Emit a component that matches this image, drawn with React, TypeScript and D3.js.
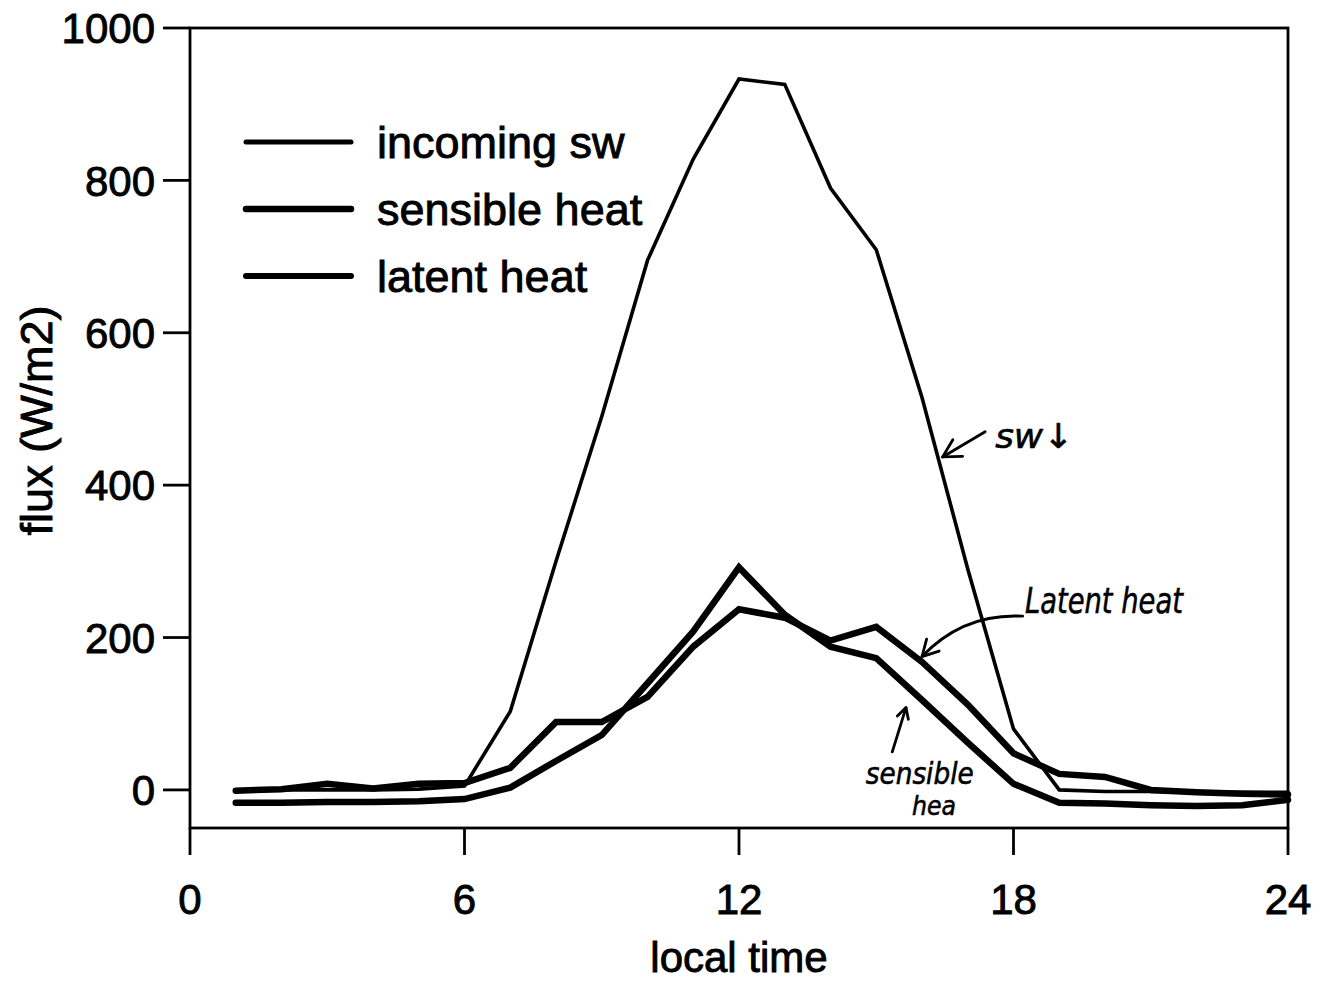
import React from "react";
import * as d3 from "d3";

const hours = [1, 2, 3, 4, 5, 6, 7, 8, 9, 10, 11, 12, 13, 14, 15, 16, 17, 18, 19, 20, 21, 22, 23, 24];
const incomingSw = [0, 0, 0, 0, 1, 5, 103, 300, 490, 695, 828, 933, 926, 790, 709, 515, 290, 80, 0, -2, -2, -3, -3, -3];
const sensibleHeat = [-17, -17, -16, -16, -15, -12, 3, 38, 72, 140, 208, 292, 230, 188, 173, 118, 62, 8, -17, -18, -20, -21, -20, -13];
const latentHeat = [-1, 1, 8, 2, 8, 9, 29, 89, 89, 122, 188, 237, 226, 196, 214, 168, 112, 48, 21, 17, 0, -3, -5, -6];

const xTicks = [0, 6, 12, 18, 24];
const yTicks = [0, 200, 400, 600, 800, 1000];
const legendLabels = ["incoming sw", "sensible heat", "latent heat"];
const legendWidths = [5, 6.5, 6];
const seriesWidths = [3.6, 6.5, 6.5];

const W = 1321;
const H = 985;
const M = { left: 190, right: 1288, top: 28, bottom: 828 };

export default function App() {
  const x = d3.scaleLinear().domain([0, 24]).range([M.left, M.right]);
  const y = d3.scaleLinear().domain([-50, 1000]).range([M.bottom, M.top]);
  const series = [incomingSw, sensibleHeat, latentHeat];
  const line = d3
    .line<number>()
    .x((_, i) => x(hours[i]))
    .y((d) => y(d));

  const font = "'Liberation Sans', Arial, Helvetica, sans-serif";
  const hand = "'DejaVu Sans', sans-serif";
  const tickLen = 27;
  const textStroke = { stroke: "#000", strokeWidth: 0.9 };

  // handwritten annotations (data coordinates)
  const swArrow = { from: [17.38, 470], to: [16.45, 437] };
  const latArrow = { from: [18.2, 228], ctrl: [16.9, 232], to: [16.0, 175] };
  const senArrow = { from: [15.35, 50], to: [15.65, 108] };

  const arrowHead = (tx: number, ty: number, fx: number, fy: number, len: number) => {
    const ang = Math.atan2(fy - ty, fx - tx);
    const a1 = ang + 0.5;
    const a2 = ang - 0.5;
    return `M${tx + len * Math.cos(a1)},${ty + len * Math.sin(a1)} L${tx},${ty} L${tx + len * Math.cos(a2)},${ty + len * Math.sin(a2)}`;
  };

  const swF = [x(swArrow.from[0]), y(swArrow.from[1])];
  const swT = [x(swArrow.to[0]), y(swArrow.to[1])];
  const laF = [x(latArrow.from[0]), y(latArrow.from[1])];
  const laC = [x(latArrow.ctrl[0]), y(latArrow.ctrl[1])];
  const laT = [x(latArrow.to[0]), y(latArrow.to[1])];
  const seF = [x(senArrow.from[0]), y(senArrow.from[1])];
  const seT = [x(senArrow.to[0]), y(senArrow.to[1])];

  return (
    <svg
      width={W}
      height={H}
      style={{ position: "absolute", left: 0, top: 0, background: "#fff" }}
    >
      <rect x={0} y={0} width={W} height={H} fill="#fff" />
      {/* frame */}
      <rect
        x={M.left}
        y={M.top}
        width={M.right - M.left}
        height={M.bottom - M.top}
        fill="none"
        stroke="#000"
        strokeWidth={2.8}
      />
      {/* y ticks */}
      {yTicks.map((t) => (
        <g key={"y" + t}>
          <line x1={M.left - tickLen} x2={M.left} y1={y(t)} y2={y(t)} stroke="#000" strokeWidth={2.8} />
          <text
            x={M.left - 35}
            y={y(t)}
            dy="0.36em"
            textAnchor="end"
            fontFamily={font}
            fontSize={42}
            fill="#000"
            {...textStroke}
          >
            {t}
          </text>
        </g>
      ))}
      {/* x ticks */}
      {xTicks.map((t) => (
        <g key={"x" + t}>
          <line x1={x(t)} x2={x(t)} y1={M.bottom} y2={M.bottom + tickLen} stroke="#000" strokeWidth={2.8} />
          <text
            x={x(t)}
            y={M.bottom + 86}
            textAnchor="middle"
            fontFamily={font}
            fontSize={42}
            fill="#000"
            {...textStroke}
          >
            {t}
          </text>
        </g>
      ))}
      {/* axis titles */}
      <text
        x={x(12)}
        y={972}
        textAnchor="middle"
        fontFamily={font}
        fontSize={42}
        fill="#000"
        {...textStroke}
      >
        local time
      </text>
      <text
        transform={`translate(52, ${y(485)}) rotate(-90)`}
        textAnchor="middle"
        fontFamily={font}
        fontSize={45}
        fill="#000"
        {...textStroke}
      >
        flux (W/m2)
      </text>
      {/* series */}
      {series.map((s, i) => (
        <path
          key={"s" + i}
          d={line(s) || ""}
          fill="none"
          stroke="#000"
          strokeWidth={seriesWidths[i]}
          strokeLinejoin="miter"
          strokeLinecap="round"
        />
      ))}
      {/* legend */}
      {legendLabels.map((lab, i) => {
        const ly = 142 + i * 67;
        return (
          <g key={"l" + i}>
            <line x1={246} x2={351} y1={ly} y2={ly} stroke="#000" strokeWidth={legendWidths[i]} strokeLinecap="round" />
            <text x={377} y={ly} dy="0.36em" fontFamily={font} fontSize={45} fill="#000" {...textStroke}>
              {lab}
            </text>
          </g>
        );
      })}
      {/* annotations */}
      <g stroke="#000" strokeWidth={2.8} fill="none" strokeLinecap="round" strokeLinejoin="round">
        <path d={`M${swF[0]},${swF[1]} L${swT[0]},${swT[1]}`} />
        <path d={arrowHead(swT[0], swT[1], swF[0], swF[1], 20)} />
        <path d={`M${laF[0]},${laF[1]} Q${laC[0]},${laC[1]} ${laT[0]},${laT[1]}`} />
        <path d={arrowHead(laT[0], laT[1], laC[0], laC[1], 18)} />
        <path d={`M${seF[0]},${seF[1]} L${seT[0]},${seT[1]}`} />
        <path d={arrowHead(seT[0], seT[1], seF[0], seF[1], 12)} />
      </g>
      <text
        x={x(17.6)}
        y={y(449)}
        fontFamily={hand}
        fontStyle="italic"
        fontSize={34}
        textLength={78}
        lengthAdjust="spacingAndGlyphs"
        fill="#000"
        stroke="#000"
        strokeWidth={0.6}
      >
        sw↓
      </text>
      <text
        x={x(18.25)}
        y={y(232)}
        fontFamily={hand}
        fontStyle="italic"
        fontSize={36}
        textLength={158}
        lengthAdjust="spacingAndGlyphs"
        fill="#000"
        stroke="#000"
        strokeWidth={0.6}
      >
        Latent heat
      </text>
      <text
        x={x(14.77)}
        y={y(8)}
        fontFamily={hand}
        fontStyle="italic"
        fontSize={30}
        textLength={108}
        lengthAdjust="spacingAndGlyphs"
        fill="#000"
        stroke="#000"
        strokeWidth={0.6}
      >
        sensible
      </text>
      <text
        x={x(15.78)}
        y={y(-33)}
        fontFamily={hand}
        fontStyle="italic"
        fontSize={26}
        textLength={44}
        lengthAdjust="spacingAndGlyphs"
        fill="#000"
        stroke="#000"
        strokeWidth={0.6}
      >
        hea
      </text>
    </svg>
  );
}
